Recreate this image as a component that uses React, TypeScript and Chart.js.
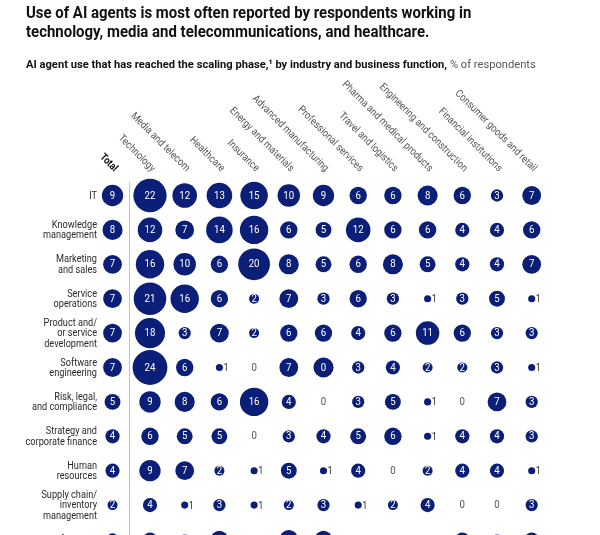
import React, { useEffect, useRef } from 'react';
import { Chart, registerables } from 'chart.js';

Chart.register(...registerables);

// ---------- DATA ----------
const columnLabels = [
  'Total',
  'Technology',
  'Media and telecom',
  'Healthcare',
  'Insurance',
  'Energy and materials',
  'Advanced manufacturing',
  'Professional services',
  'Travel and logistics',
  'Pharma and medical products',
  'Engineering and construction',
  'Financial institutions',
  'Consumer goods and retail',
];

const rowLabels = [
  ['IT'],
  ['Knowledge', 'management'],
  ['Marketing', 'and sales'],
  ['Service', 'operations'],
  ['Product and/', 'or service', 'development'],
  ['Software', 'engineering'],
  ['Risk, legal,', 'and compliance'],
  ['Strategy and', 'corporate finance'],
  ['Human', 'resources'],
  ['Supply chain/', 'inventory', 'management'],
  ['Manufacturing'],
];

// Total | Tech, Media, Health, Insur, Energy, AdvMfg, ProfSvc, Travel, Pharma, Eng, FinInst, Consumer
const itValues = [9, 22, 12, 13, 15, 10, 9, 6, 6, 8, 6, 3, 7];
const knowledgeValues = [8, 12, 7, 14, 16, 6, 5, 12, 6, 6, 4, 4, 6];
const marketingValues = [7, 16, 10, 6, 20, 8, 5, 6, 8, 5, 4, 4, 7];
const serviceValues = [7, 21, 16, 6, 2, 7, 3, 6, 3, 1, 3, 5, 1];
const productValues = [7, 18, 3, 7, 2, 6, 6, 4, 6, 11, 6, 3, 3];
const softwareValues = [7, 24, 6, 1, 0, 7, 0, 3, 4, 2, 2, 3, 1];
const riskValues = [5, 9, 8, 6, 16, 4, 0, 3, 5, 1, 0, 7, 3];
const strategyValues = [4, 6, 5, 5, 0, 3, 4, 5, 6, 1, 4, 4, 3];
const hrValues = [4, 9, 7, 2, 1, 5, 1, 4, 0, 2, 4, 4, 1];
const supplyChainValues = [2, 4, 1, 3, 1, 2, 3, 1, 2, 4, 0, 0, 3];
const manufacturingValues = [3, 4, 2, 6, 0, 7, 6, 0, 1, 1, 4, 2, 4];

const valueRows = [
  itValues,
  knowledgeValues,
  marketingValues,
  serviceValues,
  productValues,
  softwareValues,
  riskValues,
  strategyValues,
  hrValues,
  supplyChainValues,
  manufacturingValues,
];

// The source draws one cell labelled "0" with a bubble the size of ~8.
const bubbleSizeOverrides = [{ row: 5, col: 6, size: 8 }];

// ---------- STYLE ----------
const FONT = "Roboto, 'Liberation Sans', sans-serif";
const NAVY = '#0b1f78';
const CANVAS_W = 600;
const CANVAS_H = 570;

const colPos = (c: number) => (c === 0 ? -1.08 : c - 1);
const radiusFor = (v: number) => (v > 0 ? 3.55 * Math.sqrt(v) : 0);

type Pt = { x: number; y: number; r: number; v: number };

const points: Pt[] = [];
valueRows.forEach((row, ri) => {
  row.forEach((v, ci) => {
    const ov = bubbleSizeOverrides.find((o) => o.row === ri && o.col === ci);
    const size = ov ? ov.size : v;
    points.push({ x: colPos(ci), y: ri, r: radiusFor(size), v });
  });
});

function condensedText(
  ctx: CanvasRenderingContext2D,
  text: string,
  x: number,
  y: number,
  sx: number,
  angle = 0
) {
  ctx.save();
  ctx.translate(x, y);
  if (angle) ctx.rotate(angle);
  ctx.scale(sx, 1);
  ctx.fillText(text, 0, 0);
  ctx.restore();
}

const labelPlugin = {
  id: 'matrixLabels',
  beforeDatasetsDraw(chart: any) {
    const { ctx, scales } = chart;
    const x = scales.x;
    const sepX = (x.getPixelForValue(colPos(0)) + x.getPixelForValue(colPos(1))) / 2 - 2;
    ctx.save();
    ctx.strokeStyle = '#c4c4c4';
    ctx.lineWidth = 1;
    ctx.beginPath();
    ctx.moveTo(Math.round(sepX) + 0.5, 182);
    ctx.lineTo(Math.round(sepX) + 0.5, CANVAS_H);
    ctx.stroke();
    ctx.restore();
  },
  afterDatasetsDraw(chart: any) {
    const { ctx, scales } = chart;
    const x = scales.x;
    const y = scales.y;
    ctx.save();

    // values
    points.forEach((p) => {
      const px = x.getPixelForValue(p.x);
      const py = y.getPixelForValue(p.y);
      ctx.textBaseline = 'middle';
      if (p.r === 0) {
        ctx.fillStyle = '#555';
        ctx.font = `10.5px ${FONT}`;
        ctx.textAlign = 'center';
        condensedText(ctx, String(p.v), px, py + 0.5, 0.92);
      } else if (p.v === 1) {
        ctx.fillStyle = '#333';
        ctx.font = `10px ${FONT}`;
        ctx.textAlign = 'left';
        condensedText(ctx, '1', px + p.r + 0.5, py + 1, 0.92);
      } else {
        ctx.fillStyle = '#ffffff';
        ctx.font = `10.5px ${FONT}`;
        ctx.textAlign = 'center';
        condensedText(ctx, String(p.v), px, py + 0.5, 0.92);
      }
    });

    // row labels
    ctx.fillStyle = '#2a2a2a';
    ctx.font = `10.8px ${FONT}`;
    ctx.textAlign = 'right';
    ctx.textBaseline = 'middle';
    const lh = 10.3;
    rowLabels.forEach((lines, ri) => {
      const cy = y.getPixelForValue(ri);
      const start = cy - ((lines.length - 1) * lh) / 2;
      lines.forEach((t, li) => condensedText(ctx, t, 97, start + li * lh + 0.5, 0.85));
    });

    // column labels (rotated 45°)
    columnLabels.forEach((t, ci) => {
      const px = x.getPixelForValue(colPos(ci));
      ctx.textAlign = 'right';
      ctx.textBaseline = 'alphabetic';
      if (ci === 0) {
        ctx.font = `bold 10.5px ${FONT}`;
        ctx.fillStyle = '#111';
      } else {
        ctx.font = `10.5px ${FONT}`;
        ctx.fillStyle = '#555';
      }
      condensedText(ctx, t, px + 1.5, 172, 0.88, Math.PI / 4);
    });

    ctx.restore();
  },
};

export default function App() {
  const canvasRef = useRef<HTMLCanvasElement | null>(null);

  useEffect(() => {
    if (!canvasRef.current) return;
    const pxPerCol = 34.7;
    const xMin = -150 / pxPerCol;
    const xMax = xMin + CANVAS_W / pxPerCol;
    const pxPerRow = 34.4;
    const yMin = -195.5 / pxPerRow;
    const yMax = yMin + CANVAS_H / pxPerRow;

    const chart = new Chart(canvasRef.current, {
      type: 'bubble',
      data: {
        datasets: [
          {
            data: points as any,
            backgroundColor: NAVY,
            borderWidth: 0,
            hoverBorderWidth: 0,
            clip: false as any,
          } as any,
        ],
      },
      options: {
        responsive: false,
        animation: false,
        events: [],
        layout: { padding: 0, autoPadding: false } as any,
        scales: {
          x: { type: 'linear', display: false, min: xMin, max: xMax },
          y: { type: 'linear', display: false, reverse: true, min: yMin, max: yMax },
        },
        plugins: {
          legend: { display: false },
          tooltip: { enabled: false },
          title: { display: false },
        },
      },
      plugins: [labelPlugin],
    });
    return () => chart.destroy();
  }, []);

  return (
    <div
      style={{
        position: 'fixed',
        left: 0,
        top: 0,
        width: 600,
        height: 535,
        overflow: 'hidden',
        background: '#fff',
        fontFamily: FONT,
      }}
    >
      <canvas
        ref={canvasRef}
        width={CANVAS_W}
        height={CANVAS_H}
        style={{ position: 'absolute', left: 0, top: 0, width: CANVAS_W, height: CANVAS_H }}
      />
      <div
        style={{
          position: 'absolute',
          left: 26,
          top: 3,
          fontSize: 17,
          lineHeight: '19px',
          fontWeight: 'bold',
          color: '#111',
          whiteSpace: 'nowrap',
          transform: 'scaleX(0.88)',
          transformOrigin: '0 0',
        }}
      >
        Use of AI agents is most often reported by respondents working in
        <br />
        technology, media and telecommunications, and healthcare.
      </div>
      <div
        style={{
          position: 'absolute',
          left: 26,
          top: 57,
          fontSize: 11.5,
          lineHeight: '14px',
          color: '#111',
          whiteSpace: 'nowrap',
          transform: 'scaleX(0.97)',
          transformOrigin: '0 0',
        }}
      >
        <span style={{ fontWeight: 'bold' }}>
          AI agent use that has reached the scaling phase,¹ by industry and business function,
        </span>
        <span style={{ color: '#555' }}> % of respondents</span>
      </div>
    </div>
  );
}
